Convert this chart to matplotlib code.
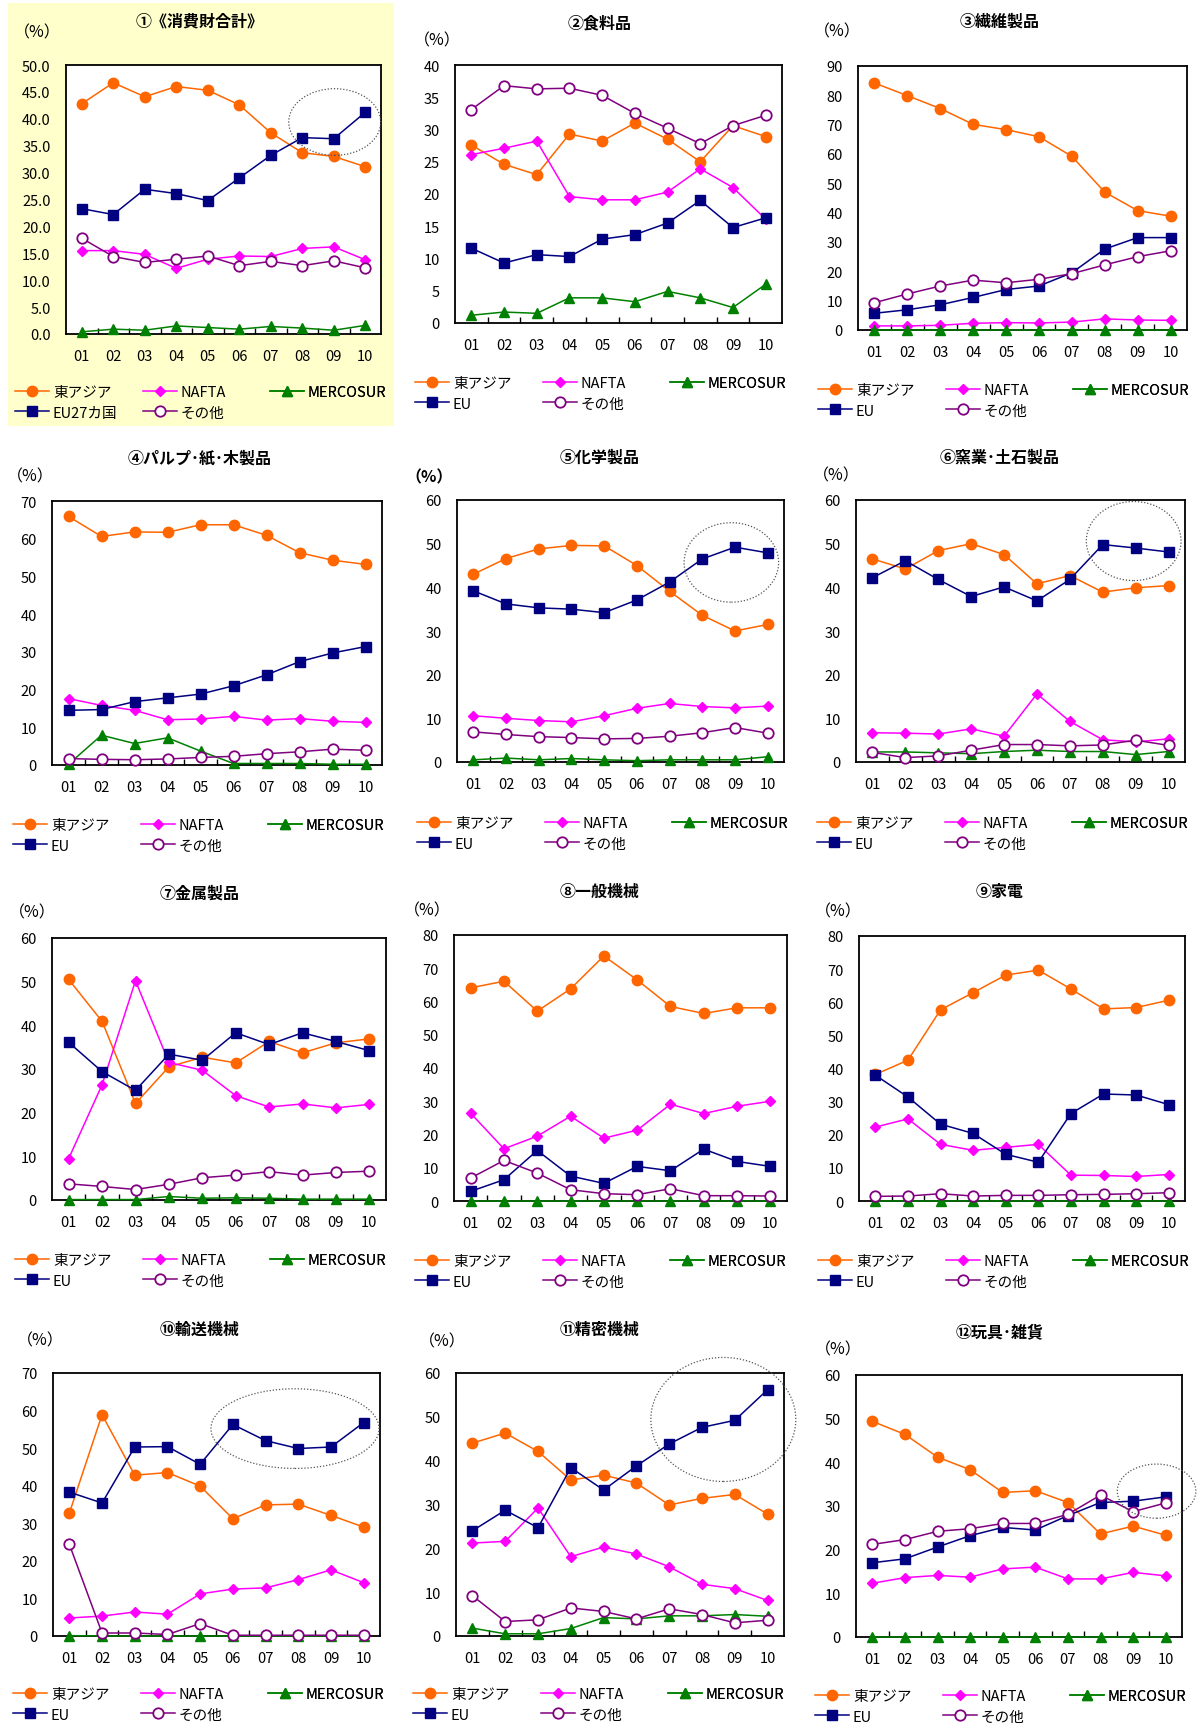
import matplotlib
matplotlib.use('Agg')
import matplotlib.pyplot as plt
from matplotlib.patches import Ellipse, Rectangle
from matplotlib.ticker import MultipleLocator, FormatStrFormatter, FixedLocator

plt.rcParams['font.family'] = ['Noto Sans CJK JP', 'DejaVu Sans']

years = ['01', '02', '03', '04', '05', '06', '07', '08', '09', '10']

titles = ['①《消費財合計》', '②食料品', '③繊維製品', '④パルプ･紙･木製品',
          '⑤化学製品', '⑥窯業･土石製品', '⑦金属製品', '⑧一般機械',
          '⑨家電', '⑩輸送機械', '⑪精密機械', '⑫玩具･雑貨']
eu_labels = ['EU27カ国'] + ['EU'] * 11
ymax = [50, 40, 90, 70, 60, 60, 60, 80, 80, 70, 60, 60]
ystep = [5, 5, 10, 10, 10, 10, 10, 10, 10, 10, 10, 10]

# shares by region (%), one row per product group, years 01-10
east_asia = [
    [42.8, 46.7, 44.1, 46.0, 45.3, 42.6, 37.4, 33.7, 33.0, 31.1],
    [27.6, 24.6, 23.0, 29.3, 28.2, 31.0, 28.5, 25.0, 30.6, 28.9],
    [84.2, 79.9, 75.5, 70.1, 68.3, 65.9, 59.2, 47.0, 40.7, 38.8],
    [65.9, 60.6, 61.8, 61.7, 63.7, 63.7, 60.9, 56.3, 54.3, 53.2],
    [43.0, 46.6, 48.8, 49.6, 49.5, 45.0, 39.1, 33.6, 30.0, 31.5],
    [46.5, 44.2, 48.4, 50.0, 47.5, 40.8, 42.7, 38.9, 39.9, 40.4],
    [50.5, 40.9, 22.1, 30.5, 32.7, 31.4, 36.3, 33.7, 36.0, 36.9],
    [64.1, 66.1, 57.1, 63.8, 73.7, 66.5, 58.5, 56.4, 58.1, 58.1],
    [38.2, 42.5, 57.7, 62.9, 68.2, 69.7, 64.0, 58.0, 58.4, 60.6],
    [32.7, 58.9, 42.8, 43.5, 39.9, 31.2, 34.9, 35.1, 32.1, 29.0],
    [44.0, 46.3, 42.1, 35.6, 36.7, 34.9, 29.9, 31.4, 32.3, 27.8],
    [49.4, 46.4, 41.2, 38.3, 33.1, 33.5, 30.8, 23.6, 25.4, 23.3],
]
nafta = [
    [15.5, 15.5, 14.8, 12.2, 13.9, 14.5, 14.4, 15.9, 16.2, 13.8],
    [26.1, 27.1, 28.2, 19.6, 19.1, 19.1, 20.3, 23.9, 21.0, 16.1],
    [1.4, 1.4, 1.6, 2.3, 2.5, 2.4, 2.7, 3.8, 3.4, 3.3],
    [17.6, 15.8, 14.5, 12.0, 12.2, 12.9, 11.9, 12.3, 11.6, 11.3],
    [10.6, 10.0, 9.5, 9.2, 10.6, 12.3, 13.4, 12.7, 12.4, 12.8],
    [6.7, 6.6, 6.4, 7.6, 5.9, 15.6, 9.3, 5.1, 4.6, 5.3],
    [9.5, 26.4, 50.2, 31.5, 29.7, 23.9, 21.3, 22.0, 21.1, 21.9],
    [26.4, 15.7, 19.5, 25.5, 18.9, 21.3, 29.1, 26.3, 28.5, 30.0],
    [22.3, 24.8, 17.1, 15.3, 16.2, 17.1, 7.8, 7.7, 7.4, 8.0],
    [4.8, 5.3, 6.4, 5.8, 11.2, 12.5, 12.8, 15.0, 17.6, 14.2],
    [21.2, 21.6, 29.2, 18.1, 20.3, 18.7, 15.8, 11.8, 10.8, 8.1],
    [12.3, 13.6, 14.1, 13.7, 15.6, 16.0, 13.3, 13.3, 14.8, 14.0],
]
mercosur = [
    [0.4, 0.9, 0.7, 1.5, 1.2, 0.9, 1.4, 1.1, 0.7, 1.6],
    [1.2, 1.7, 1.5, 3.9, 3.9, 3.3, 4.9, 3.9, 2.4, 6.0],
    [0.1, 0.1, 0.1, 0.1, 0.1, 0.1, 0.1, 0.1, 0.1, 0.1],
    [0.2, 7.9, 5.7, 7.2, 3.7, 0.4, 0.4, 0.4, 0.2, 0.2],
    [0.5, 0.9, 0.5, 0.8, 0.5, 0.3, 0.5, 0.5, 0.5, 1.2],
    [2.3, 2.3, 2.1, 1.9, 2.4, 2.7, 2.4, 2.4, 1.7, 2.4],
    [0.1, 0.1, 0.1, 0.8, 0.4, 0.5, 0.4, 0.2, 0.2, 0.2],
    [0.0, 0.0, 0.0, 0.0, 0.0, 0.0, 0.0, 0.0, 0.0, 0.0],
    [0.0, 0.0, 0.0, 0.0, 0.0, 0.0, 0.0, 0.0, 0.0, 0.0],
    [0.1, 0.0, 0.0, 0.0, 0.0, 0.0, 0.0, 0.0, 0.0, 0.0],
    [1.8, 0.5, 0.5, 1.7, 4.2, 3.9, 4.6, 4.6, 4.9, 4.5],
    [0.0, 0.0, 0.0, 0.0, 0.0, 0.0, 0.0, 0.0, 0.0, 0.0],
]
eu = [
    [23.3, 22.2, 26.9, 26.1, 24.8, 29.0, 33.2, 36.5, 36.3, 41.2],
    [11.6, 9.3, 10.6, 10.3, 13.0, 13.7, 15.5, 19.0, 14.8, 16.3],
    [5.7, 6.9, 8.6, 11.1, 13.8, 15.0, 19.5, 27.6, 31.5, 31.5],
    [14.5, 14.7, 16.8, 17.8, 18.8, 21.0, 23.9, 27.4, 29.7, 31.4],
    [39.2, 36.2, 35.3, 35.0, 34.2, 37.1, 41.2, 46.5, 49.2, 47.9],
    [42.2, 46.1, 41.8, 37.9, 40.1, 36.9, 41.8, 49.8, 49.0, 48.1],
    [36.1, 29.4, 25.1, 33.4, 32.0, 38.3, 35.6, 38.3, 36.3, 34.2],
    [2.9, 6.4, 15.2, 7.5, 5.3, 10.4, 9.1, 15.6, 11.9, 10.4],
    [38.0, 31.4, 23.2, 20.4, 14.1, 11.7, 26.4, 32.3, 32.0, 29.1],
    [38.3, 35.4, 50.3, 50.4, 45.7, 56.3, 52.0, 49.9, 50.3, 56.8],
    [24.0, 28.7, 24.7, 38.4, 33.3, 38.8, 43.8, 47.6, 49.2, 56.2],
    [17.0, 17.9, 20.6, 23.2, 25.1, 24.5, 27.8, 30.8, 31.1, 32.1],
]
other = [
    [17.8, 14.4, 13.3, 13.9, 14.5, 12.7, 13.5, 12.7, 13.6, 12.3],
    [33.1, 36.8, 36.3, 36.4, 35.3, 32.5, 30.2, 27.8, 30.6, 32.2],
    [9.3, 12.3, 15.0, 17.0, 16.1, 17.3, 19.2, 22.2, 25.0, 27.0],
    [1.7, 1.5, 1.4, 1.6, 2.0, 2.3, 3.0, 3.5, 4.2, 3.9],
    [6.9, 6.3, 5.8, 5.6, 5.3, 5.4, 5.9, 6.7, 7.9, 6.6],
    [2.2, 1.0, 1.4, 2.7, 4.0, 4.0, 3.7, 3.9, 5.0, 3.8],
    [3.7, 3.1, 2.4, 3.6, 5.1, 5.7, 6.5, 5.7, 6.3, 6.6],
    [6.9, 12.2, 8.4, 3.4, 2.2, 1.9, 3.7, 1.6, 1.6, 1.5],
    [1.4, 1.5, 2.2, 1.5, 1.7, 1.7, 1.9, 2.0, 2.2, 2.5],
    [24.4, 0.8, 0.8, 0.4, 3.3, 0.2, 0.2, 0.2, 0.2, 0.2],
    [9.2, 3.3, 3.7, 6.4, 5.6, 3.9, 6.2, 4.9, 3.0, 3.6],
    [21.2, 22.3, 24.2, 24.8, 26.0, 26.0, 28.1, 32.5, 28.7, 30.7],
]

# dotted rings drawn around the latest EU values: panel, x centre, y centre, width, height
rings = [(0, 9.03, 39.4, 2.92, 12.4), (4, 8.89, 45.7, 2.89, 18.2),
         (5, 8.94, 50.6, 2.88, 18.1), (9, 7.90, 55.2, 5.14, 21.2),
         (10, 8.65, 49.4, 4.42, 28.3), (11, 9.72, 33.4, 2.41, 12.4)]

W, H = 1201, 1724
fig = plt.figure(figsize=(W / 100, H / 100), dpi=100)
# pale yellow backing behind the first (total) panel
fig.patches.append(Rectangle((8 / W, 1 - 427 / H), 386 / W, 423 / H,
                             transform=fig.transFigure, facecolor='#FFFFCC',
                             edgecolor='none', zorder=-1))

# axes boxes in pixels: left, top, right, bottom
boxes = [(66, 66, 381, 335), (455, 66, 782, 324), (858, 67, 1187, 331),
         (52, 502, 382, 766), (457, 501, 784, 763), (856, 501, 1185, 763),
         (52, 939, 386, 1201), (454, 936, 787, 1202), (859, 937, 1185, 1202),
         (53, 1374, 380, 1637), (456, 1374, 784, 1637), (856, 1376, 1182, 1638)]
pct_pos = [(37, 33), (437, 41), (837, 32), (30, 477), (429, 477), (836, 476),
           (32, 913), (427, 911), (838, 912), (40, 1341), (442, 1342), (838, 1350)]
title_y = [22, 23, 22, 458, 458, 458, 894, 892, 892, 1330, 1330, 1332]
leg_x = [15, 415, 818, 13, 417, 817, 15, 415, 818, 13, 413, 815]
leg_y = [390, 381, 388, 823, 821, 821, 1258, 1259, 1259, 1692, 1692, 1694]
leg_cols = [0, 128, 255]

x = list(range(1, 11))

for i in range(12):
    l, t, r, b = boxes[i]
    ax = fig.add_axes([l / W, 1 - b / H, (r - l) / W, (b - t) / H])
    ax.set_facecolor('white')

    h_ea, = ax.plot(x, east_asia[i], color='#FF6600', marker='o', ms=7.5,
                    lw=1.1, clip_on=False, zorder=3)
    h_na, = ax.plot(x, nafta[i], color='#FF00FF', marker='D', ms=5.5,
                    lw=1.1, clip_on=False, zorder=3)
    h_me, = ax.plot(x, mercosur[i], color='#008000', marker='^', ms=7.5,
                    lw=1.1, clip_on=False, zorder=3)
    h_eu, = ax.plot(x, eu[i], color='#000080', marker='s', ms=7,
                    lw=1.1, clip_on=False, zorder=3)
    h_ot, = ax.plot(x, other[i], color='#800080', marker='o', ms=7.5,
                    mfc='white', mew=1.3, lw=1.1, clip_on=False, zorder=3)

    ax.set_xlim(0.5, 10.5)
    ax.set_ylim(0, ymax[i])
    ax.set_xticks(x)
    ax.set_xticklabels(years)
    ax.xaxis.set_minor_locator(FixedLocator([k + 0.5 for k in range(1, 10)]))
    ax.yaxis.set_major_locator(MultipleLocator(ystep[i]))
    if i == 0:
        ax.yaxis.set_major_formatter(FormatStrFormatter('%.1f'))
    ax.tick_params(axis='x', which='major', length=0, pad=11, labelsize=10.5)
    ax.tick_params(axis='x', which='minor', direction='in', length=4, width=1)
    ax.tick_params(axis='y', length=0, pad=11, labelsize=10.5)
    for s in ax.spines.values():
        s.set_linewidth(1.3)

    for p, cx, cy, w, h in rings:
        if p == i:
            ax.add_patch(Ellipse((cx, cy), w, h, fill=False, ls=(0, (1, 1.5)),
                                 lw=0.9, ec='#555555', clip_on=False, zorder=4))

    col = i % 3
    fig.text((200 + 400 * col) / W, 1 - title_y[i] / H, titles[i],
             ha='center', va='center', fontsize=11.5, fontweight='bold')
    fig.text(pct_pos[i][0] / W, 1 - pct_pos[i][1] / H, '（%）', ha='center',
             va='center', fontsize=11.5,
             fontweight='bold' if i == 4 else 'normal')

    # legend laid out as three fixed columns
    groups = [([h_ea, h_eu], ['東アジア', eu_labels[i]]),
              ([h_na, h_ot], ['NAFTA', 'その他']),
              ([h_me], ['MERCOSUR'])]
    for k, (hs, labs) in enumerate(groups):
        leg = ax.legend(hs, labs, loc='upper left',
                        bbox_to_anchor=((leg_x[i] + leg_cols[k]) / W,
                                        1 - (leg_y[i] - 4) / H),
                        bbox_transform=fig.transFigure, ncol=1, frameon=False,
                        fontsize=10.5, handlelength=2.3, handletextpad=0.3,
                        labelspacing=0.45, borderpad=0, borderaxespad=0)
        ax.add_artist(leg)

fig.savefig('out.png', dpi=100, facecolor='white')
